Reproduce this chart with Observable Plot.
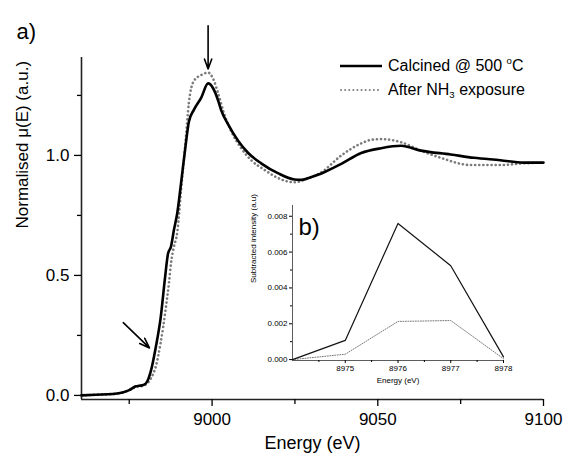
<!DOCTYPE html>
<html>
<head>
<meta charset="utf-8">
<script src="https://cdn.jsdelivr.net/npm/d3@7"></script>
<script src="https://cdn.jsdelivr.net/npm/@observablehq/plot@0.6"></script>
<style>
  html, body { margin: 0; padding: 0; background: white; }
  #wrap { position: relative; width: 569px; height: 459px; font-family: "Liberation Sans", Arial, sans-serif; }
  #inset { position: absolute; left: 230px; top: 195px; }
  #legend { position: absolute; left: 340px; top: 54px; font-size: 16px; color: #000; line-height: 24px; }
  #legend .row { display: flex; align-items: center; white-space: nowrap; }
  #legend svg { margin-right: 6px; }
  sup { font-size: 0.6em; vertical-align: 0.7em; line-height: 0; }
  sub { font-size: 0.6em; vertical-align: -0.35em; line-height: 0; }
</style>
</head>
<body>
<div id="wrap">
  <div id="main"></div>
  <div id="inset"></div>
  <div id="legend">
    <div class="row"><svg width="42" height="10"><line x1="0" y1="5" x2="42" y2="5" stroke="#000" stroke-width="2.5"/></svg><span>Calcined @ 500&nbsp;<sup>o</sup>C</span></div>
    <div class="row"><svg width="42" height="10"><line x1="1" y1="5" x2="41" y2="5" stroke="#808080" stroke-width="2" stroke-dasharray="0.1 4" stroke-linecap="round"/></svg><span>After NH<sub>3</sub>&nbsp;exposure</span></div>
  </div>
</div>
<script>
// ---- Main panel (a) data ----
const energyCalc = [8960.6, 8965, 8970, 8973, 8975, 8977, 8978, 8979.5, 8980.5, 8981.5, 8983, 8984.5, 8985.8, 8986.7, 8987.6, 8988.5, 8989.5, 8990.6, 8992, 8993, 8994.5, 8996.7, 8998.8, 9000.3, 9001.8, 9002.7, 9004.8, 9007.9, 9010.9, 9014.8, 9020, 9024.8, 9027, 9030, 9033, 9039, 9045, 9051, 9057, 9063, 9072, 9079, 9087, 9094, 9100];
const muCalc     = [0.0, 0.003, 0.006, 0.012, 0.022, 0.038, 0.040, 0.045, 0.06, 0.10, 0.20, 0.325, 0.49, 0.59, 0.62, 0.69, 0.76, 0.88, 1.04, 1.14, 1.19, 1.24, 1.30, 1.28, 1.23, 1.19, 1.13, 1.06, 1.01, 0.967, 0.925, 0.90, 0.898, 0.91, 0.925, 0.965, 1.01, 1.03, 1.04, 1.02, 1.004, 0.99, 0.98, 0.97, 0.97];

const energyNH3 = [8960.6, 8965, 8970, 8973, 8975, 8977, 8978.5, 8980, 8981.5, 8983, 8984.5, 8986, 8987, 8987.6, 8988.5, 8989.5, 8990.6, 8992, 8993, 8994.5, 8996.7, 8998.8, 9000.3, 9001.8, 9003.6, 9005.8, 9008.8, 9011.8, 9015.8, 9020, 9024.8, 9029, 9033, 9039, 9045, 9048, 9051, 9057, 9063, 9069, 9078, 9087, 9094, 9100];
const muNH3     = [0.0, 0.003, 0.006, 0.012, 0.022, 0.035, 0.038, 0.045, 0.07, 0.12, 0.22, 0.36, 0.47, 0.55, 0.62, 0.68, 0.85, 1.06, 1.22, 1.31, 1.335, 1.345, 1.32, 1.26, 1.175, 1.10, 1.03, 0.98, 0.94, 0.905, 0.888, 0.905, 0.93, 1.00, 1.05, 1.065, 1.068, 1.055, 1.02, 0.99, 0.96, 0.96, 0.967, 0.97];

const mainXDomain = [8960.6, 9100];
const mainYDomain = [-0.017, 1.408];
const mainXTicks = [9000, 9050, 9100];
const mainXMinor = [8975, 9025, 9075];
const mainYTicks = [0, 0.5, 1.0];
const mainYMinor = [0.25, 0.75, 1.25];

// arrows (annotation) in data units
const arrowX1 = [8998.8, 8973.2];
const arrowY1 = [1.54, 0.303];
const arrowX2 = [8998.8, 8981.1];
const arrowY2 = [1.36, 0.198];

// ---- Inset (b) data ----
const insetEnergy = [8974, 8975, 8976, 8977, 8978];
const insetCalc   = [0.0, 0.00107, 0.0076, 0.00524, 0.00015];
const insetNH3    = [0.0, 0.0003, 0.00213, 0.00218, 0.00005];
const insetXDomain = [8974, 8978];
const insetYDomain = [-0.00005, 0.0086];
const insetXTicks = [8975, 8976, 8977, 8978];
const insetXMinor = [8974.5, 8975.5, 8976.5, 8977.5];
const insetYTicks = [0, 0.002, 0.004, 0.006, 0.008];
const insetYMinor = [0.001, 0.003, 0.005, 0.007];

const font = "Liberation Sans, Arial, sans-serif";

const main = Plot.plot({
  width: 569, height: 459,
  marginLeft: 81, marginRight: 26, marginTop: 57, marginBottom: 60,
  x: {domain: mainXDomain},
  y: {domain: mainYDomain},
  style: {fontFamily: font, background: "white", color: "#000", overflow: "visible"},
  marks: [
    Plot.ruleX([mainXDomain[0]], {y1: mainYDomain[0], y2: mainYDomain[1], stroke: "#222", strokeWidth: 1.6}),
    Plot.ruleY([mainYDomain[0]], {x1: mainXDomain[0], x2: mainXDomain[1], stroke: "#222", strokeWidth: 1.6}),
    Plot.axisY({ticks: mainYTicks, tickFormat: d3.format(".1f"), tickSize: 7, tickPadding: 5, fontSize: 17, label: null, strokeWidth: 1.3}),
    Plot.axisY({ticks: mainYMinor, tickFormat: () => "", tickSize: 4, label: null, strokeWidth: 1.3}),
    Plot.axisX({ticks: mainXTicks, tickFormat: d3.format("d"), tickSize: 7, tickPadding: 6, fontSize: 17, label: null, strokeWidth: 1.3}),
    Plot.axisX({ticks: mainXMinor, tickFormat: () => "", tickSize: 5, label: null, strokeWidth: 1.3}),
    Plot.line(energyNH3, {x: energyNH3, y: muNH3, curve: "monotone-x", stroke: "#7a7a7a", strokeWidth: 2.6, strokeDasharray: "0.1 4", strokeLinecap: "round"}),
    Plot.line(energyCalc, {x: energyCalc, y: muCalc, curve: "monotone-x", stroke: "#000", strokeWidth: 2.6}),
    Plot.arrow(arrowX1, {x1: arrowX1, y1: arrowY1, x2: arrowX2, y2: arrowY2, stroke: "#000", strokeWidth: 1.6, headLength: 10, headAngle: 40}),
    Plot.text(["Energy (eV)"], {frameAnchor: "bottom", dy: 49, fontSize: 18}),
    Plot.text(["Normalised μ(E) (a.u.)"], {frameAnchor: "left", dx: -59, rotate: -90, fontSize: 17}),
    Plot.text(["a)"], {frameAnchor: "top-left", dx: -65, dy: -34, fontSize: 22, textAnchor: "start"})
  ]
});
document.getElementById("main").appendChild(main);

const inset = Plot.plot({
  width: 285, height: 200,
  marginLeft: 62, marginRight: 12, marginTop: 10, marginBottom: 35,
  x: {domain: insetXDomain},
  y: {domain: insetYDomain},
  style: {fontFamily: font, background: "transparent", color: "#000", overflow: "visible"},
  marks: [
    Plot.ruleX([insetXDomain[0]], {y1: insetYDomain[0], y2: insetYDomain[1], stroke: "#333", strokeWidth: 0.8}),
    Plot.ruleY([insetYDomain[0]], {x1: insetXDomain[0], x2: insetXDomain[1], stroke: "#333", strokeWidth: 0.8}),
    Plot.axisY({ticks: insetYTicks, tickFormat: d3.format(".3f"), tickSize: 3, tickPadding: 2, fontSize: 8, label: null}),
    Plot.axisY({ticks: insetYMinor, tickFormat: () => "", tickSize: 2, label: null}),
    Plot.axisX({ticks: insetXTicks, tickFormat: d3.format("d"), tickSize: 3, tickPadding: 2, fontSize: 8, label: null}),
    Plot.axisX({ticks: insetXMinor, tickFormat: () => "", tickSize: 2, label: null}),
    Plot.line(insetEnergy, {x: insetEnergy, y: insetNH3, stroke: "#777", strokeWidth: 1, strokeDasharray: "1 1.5"}),
    Plot.line(insetEnergy, {x: insetEnergy, y: insetCalc, stroke: "#111", strokeWidth: 1.2}),
    Plot.text(["Energy (eV)"], {frameAnchor: "bottom", dy: 22, fontSize: 8}),
    Plot.text(["Subtracted intensity (a.u)"], {frameAnchor: "left", dx: -39, rotate: -90, fontSize: 8}),
    Plot.text(["b)"], {frameAnchor: "top-left", dx: 6, dy: 12, fontSize: 24, textAnchor: "start"})
  ]
});
document.getElementById("inset").appendChild(inset);
</script>
</body>
</html>
